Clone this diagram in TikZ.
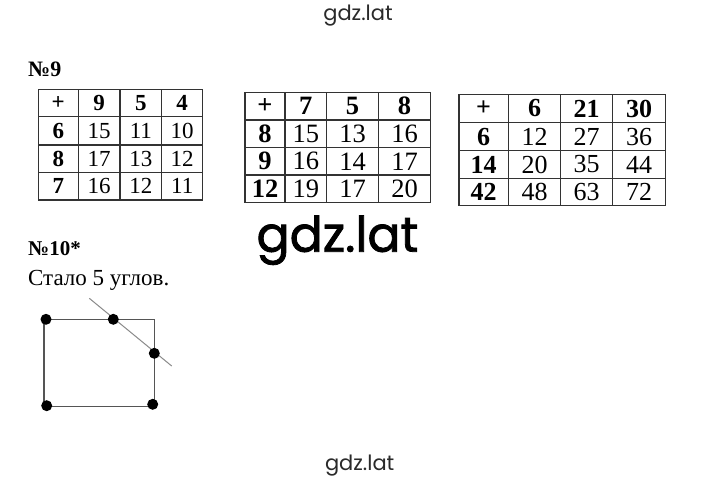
\documentclass[tikz,border=0pt]{standalone}
\usepackage{fontspec}
\setmainfont{Liberation Serif}
\newfontfamily\wmfont{Poppins}
\newfontfamily\wmboldfont[FakeBold=1.6]{Poppins}
\definecolor{gridc}{HTML}{333333}
\definecolor{figc}{HTML}{555555}
\definecolor{cutc}{HTML}{8A8A8A}
\definecolor{wmc}{HTML}{2A2A2A}
\begin{document}
\begin{tikzpicture}[x=1pt,y=-1pt,
  tbl/.style={draw=gridc,line width=1.1pt},
  hd/.style={inner sep=0pt,font=\fontsize{\fs}{\fs}\selectfont\bfseries},
  cl/.style={inner sep=0pt,font=\fontsize{\fs}{\fs}\selectfont},
  lbl/.style={inner sep=0pt,anchor=base west},
  dot/.style={circle,fill=black,inner sep=0pt,minimum size=11pt},
  wm/.style={inner sep=0pt,anchor=base,text=wmc}]
\useasboundingbox (0,0) rectangle (720,480);
\fill[white] (0,0) rectangle (720,480);

% watermarks
\node[wm,font=\wmfont\fontsize{21}{21}\selectfont] (wmtop) at (358,20.5) {gdz.lat};
\node[wm,font=\wmboldfont\fontsize{49}{49}\selectfont,text=black] (wmmid) at (337.5,251.7) {gdz.lat};
\node[wm,font=\wmfont\fontsize{21}{21}\selectfont] (wmbot) at (359.7,470.7) {gdz.lat};

% labels
\node[lbl,font=\fontsize{22}{22}\selectfont\bfseries] (n9) at (28,76.7) {№9};
\node[lbl,font=\fontsize{21}{21}\selectfont\bfseries] (n10) at (28,255.7) {№10*};
\node[lbl,font=\fontsize{23}{23}\selectfont] (txt) at (28,285) {Стало 5 углов.};

% table 1
\def\fs{23}
\draw[tbl] (38.3,89.3) rectangle (202.7,200);
\foreach \xx in {78.3,120,161.7} \draw[tbl] (\xx,89.3) -- (\xx,200);
\foreach \yy in {116.7,145,172.3} \draw[tbl] (38.3,\yy) -- (202.7,\yy);
\node[hd] (a00) at (58.3,103) {+};
\node[hd] (a01) at (99.15,103) {9};
\node[hd] (a02) at (140.85,103) {5};
\node[hd] (a03) at (182.2,103) {4};
\foreach \yy/\ra/\rb/\rc/\rd [count=\ii] in {130.85/6/15/11/10,158.65/8/17/13/12,186.15/7/16/12/11}{
  \node[hd] (a\ii0) at (58.3,\yy) {\ra};
  \node[cl] (a\ii1) at (99.15,\yy) {\rb};
  \node[cl] (a\ii2) at (140.85,\yy) {\rc};
  \node[cl] (a\ii3) at (182.2,\yy) {\rd};
}

% table 2
\def\fs{26.5}
\draw[tbl] (245,92.3) rectangle (430.7,202.3);
\foreach \xx in {285,326.7,378.3} \draw[tbl] (\xx,92.3) -- (\xx,202.3);
\foreach \yy in {120,147.7,175} \draw[tbl] (245,\yy) -- (430.7,\yy);
\node[hd] (b00) at (265,106.15) {+};
\node[hd] (b01) at (305.85,106.15) {7};
\node[hd] (b02) at (352.5,106.15) {5};
\node[hd] (b03) at (404.5,106.15) {8};
\foreach \yy/\ra/\rb/\rc/\rd [count=\ii] in {133.85/8/15/13/16,161.35/9/16/14/17,188.65/12/19/17/20}{
  \node[hd] (b\ii0) at (265,\yy) {\ra};
  \node[cl] (b\ii1) at (305.85,\yy) {\rb};
  \node[cl] (b\ii2) at (352.5,\yy) {\rc};
  \node[cl] (b\ii3) at (404.5,\yy) {\rd};
}

% table 3
\def\fs{26}
\draw[tbl] (459,94.3) rectangle (665.7,205.7);
\foreach \xx in {508.3,560.7,612.7} \draw[tbl] (\xx,94.3) -- (\xx,205.7);
\foreach \yy in {122.7,150.7,178.3} \draw[tbl] (459,\yy) -- (665.7,\yy);
\node[hd] (c00) at (483.65,108.5) {+};
\node[hd] (c01) at (534.5,108.5) {6};
\node[hd] (c02) at (586.7,108.5) {21};
\node[hd] (c03) at (639.2,108.5) {30};
\foreach \yy/\ra/\rb/\rc/\rd [count=\ii] in {136.7/6/12/27/36,164.5/14/20/35/44,192/42/48/63/72}{
  \node[hd] (c\ii0) at (483.65,\yy) {\ra};
  \node[cl] (c\ii1) at (534.5,\yy) {\rb};
  \node[cl] (c\ii2) at (586.7,\yy) {\rc};
  \node[cl] (c\ii3) at (639.2,\yy) {\rd};
}

% figure
\draw[draw=figc,line width=1.5pt] (43.8,319.3) rectangle (154.3,406.5);
\coordinate (cutA) at (89.3,298.3);
\coordinate (cutB) at (171.7,366);
\draw[draw=cutc,line width=1pt] (cutA) -- (cutB);
\node[dot] (p1) at (46,319.3) {};
\node[dot] (p2) at (113.3,319.3) {};
\node[dot] (p3) at (154.3,353.3) {};
\node[dot] (p4) at (46.7,405.7) {};
\node[dot] (p5) at (152.7,404.3) {};
\end{tikzpicture}
\end{document}
